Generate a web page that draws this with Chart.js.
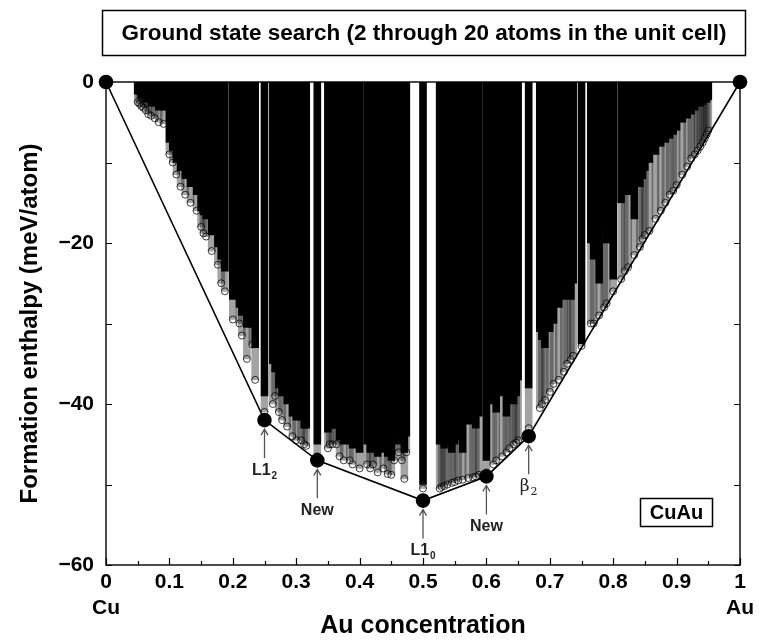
<!DOCTYPE html>
<html>
<head>
<meta charset="utf-8">
<script src="https://cdn.jsdelivr.net/npm/chart.js@4.4.1/dist/chart.umd.min.js"></script>
<style>
  html, body { margin: 0; padding: 0; background: #fff; }
  #wrap { width: 759px; height: 641px; }
</style>
</head>
<body>
<div id="wrap"><canvas id="hullChart" width="759" height="641"></canvas></div>
<script>
// Au concentrations of the enumerated cells (n/m, m <= 20)
const conc = [
  0.05, 0.0526, 0.0556, 0.0588, 0.0625, 0.0667, 0.0714, 0.0769, 0.0833, 0.0909,
  0.1, 0.1053, 0.1111, 0.1176, 0.125, 0.1333, 0.1429, 0.15, 0.1538, 0.1579,
  0.1667, 0.1765, 0.1818, 0.1875, 0.2, 0.2105, 0.2143, 0.2222, 0.2308, 0.2353,
  0.25, 0.2632, 0.2667, 0.2727, 0.2778, 0.2857, 0.2941, 0.3, 0.3077, 0.3125,
  0.3158, 0.3333, 0.35, 0.3529, 0.3571, 0.3636, 0.3684, 0.375, 0.3846, 0.3889,
  0.4, 0.4118, 0.4167, 0.4211, 0.4286, 0.4375, 0.4444, 0.45, 0.4545, 0.4615,
  0.4667, 0.4706, 0.4737, 0.5, 0.5263, 0.5294, 0.5333, 0.5385, 0.5455, 0.55,
  0.5556, 0.5625, 0.5714, 0.5789, 0.5833, 0.5882, 0.6, 0.6111, 0.6154, 0.625,
  0.6316, 0.6364, 0.6429, 0.6471, 0.65, 0.6667, 0.6842, 0.6875, 0.6923, 0.7,
  0.7059, 0.7143, 0.7222, 0.7273, 0.7333, 0.7368, 0.75, 0.7647, 0.7692, 0.7778,
  0.7857, 0.7895, 0.8, 0.8125, 0.8182, 0.8235, 0.8333, 0.8421, 0.8462, 0.85,
  0.8571, 0.8667, 0.875, 0.8824, 0.8889, 0.8947, 0.9, 0.9091, 0.9167, 0.9231,
  0.9286, 0.9333, 0.9375, 0.9412, 0.9444, 0.9474, 0.95
];

// bottom of the solid black part of each column (meV/atom)
const denseBottom = [
  -1.5, -1.5, -2, -2, -2.5, -2.5, -3, -3, -3.5, -3.5,
  -7.5, -8.5, -10, -11, -12, -13, -14, -16, -16.5, -17,
  -19, -20.5, -22, -23.5, -27, -28, -29, -30.5, -30.5, -33,
  -39, -35, -36, -38, -39, -40, -41.5, -42, -42, -43,
  -43, -45, -43.5, -43, -43, -43, -44.5, -45, -45, -45.5,
  -46, -45, -46, -45.5, -46.5, -46, -46.5, -47, -45, -44,
  -45, -46, -44, -50, -45, -44.5, -45.5, -45, -46, -45,
  -44.5, -46, -42.5, -42, -43, -41.5, -47, -40, -41, -39,
  -41.5, -38, -40, -39, -37, -38, -31, -32, -33, -31,
  -30, -28, -27, -26, -27, -25, -32.5, -20, -22, -25,
  -18, -20, -24.5, -15, -13, -14, -17, -13, -12, -11,
  -10, -9, -8, -7.5, -7, -6.5, -6, -5, -4.5, -4,
  -3.5, -3, -3, -2.8, -2.5, -2.5, -2.2
];

// lowest (sparse) structure found in each column (meV/atom)
const lowest = [
  -2.5, -2.7, -3, -3.2, -3.5, -4, -4.2, -4.5, -5, -5.2,
  -9, -10, -11.5, -13, -14, -15, -16, -18, -18.8, -19.2,
  -21, -22.7, -25, -26, -29.5, -30, -31.5, -34.4, -32.6, -37,
  -41, -40, -39, -41, -42, -42.8, -44, -44.5, -44.5, -45,
  -45.2, -46.5, -45.5, -45, -45, -45, -46.5, -47, -47, -47.5,
  -48, -47.5, -48, -47.5, -48.5, -48, -48.7, -48.8, -47, -46,
  -47, -49.3, -46, -50.5, -50.5, -50.3, -50.2, -50, -49.8, -49.7,
  -49.5, -49.4, -49.2, -49.1, -49, -48.8, -48.5, -47.5, -47, -46.5,
  -46, -45.5, -45, -44.8, -44.5, -43, -40.5, -40, -39.5, -38.5,
  -37.5, -37, -36, -35, -34.5, -34, -32.8, -30, -30, -29,
  -28, -27.5, -26, -24.5, -23.5, -23, -21.5, -20.5, -19.5, -19,
  -18.5, -17, -16, -15, -14, -13.5, -12.8, -11.5, -10.5, -9.5,
  -9, -8.5, -8, -7.5, -7, -6.5, -6
];

// ground-state line
const hullX = [0, 0.25, 0.3333, 0.5, 0.6, 0.6667, 1];
const hullY = [0, -42, -47, -52, -49, -44, 0];
const hullName = ['', 'L1', 'New', 'L1', 'New', '\u03B2', ''];
const hullSub = ['', '2', '', '0', '', '2', ''];

// axis labels
const xEndNames = ['Cu', 'Au'];
const yLabelled = [0, -20, -40, -60];
const chartTitle = 'Ground state search (2 through 20 atoms in the unit cell)';
const systemName = 'CuAu';

const FONT = '"Liberation Sans", Arial, Helvetica, sans-serif';
Chart.defaults.font.family = FONT;
Chart.defaults.color = '#000';

const decor = {
    id: 'decor',
    beforeDatasetsDraw(chart) {
        const {ctx, chartArea: a, scales: {x, y}} = chart;
        ctx.save();
        ctx.strokeStyle = '#000';
        ctx.lineWidth = 1.4;
        ctx.strokeRect(a.left, a.top, a.right - a.left, a.bottom - a.top);
        ctx.lineWidth = 1.2;
        ctx.beginPath();
        x.ticks.forEach(t => {
            const px = Math.round(x.getPixelForValue(t.value)) + 0.5;
            const len = Math.round(t.value * 20) % 2 === 0 ? 7 : 4;
            ctx.moveTo(px, a.bottom);
            ctx.lineTo(px, a.bottom - len);
        });
        y.ticks.forEach(t => {
            const py = Math.round(y.getPixelForValue(t.value)) + 0.5;
            ctx.moveTo(a.left, py);
            ctx.lineTo(a.left + 6, py);
            ctx.moveTo(a.right, py);
            ctx.lineTo(a.right - 6, py);
        });
        ctx.stroke();
        ctx.restore();
    },
    afterDraw(chart) {
        const {ctx, chartArea: a, scales: {x, y}} = chart;
        ctx.save();

        // title box
        ctx.strokeStyle = '#000';
        ctx.lineWidth = 1.5;
        ctx.strokeRect(102.5, 10.5, 643, 45);
        ctx.fillStyle = '#000';
        ctx.font = 'bold 22.5px ' + FONT;
        ctx.textAlign = 'center';
        ctx.textBaseline = 'middle';
        ctx.fillText(chartTitle, 424, 34);

        // arrows + structure names under the hull points
        hullX.forEach((hx, i) => {
            if (!hullName[i]) return;
            const px = x.getPixelForValue(hx);
            const py = y.getPixelForValue(hullY[i]);
            ctx.strokeStyle = '#555';
            ctx.lineWidth = 1.3;
            ctx.beginPath();
            ctx.moveTo(px, py + 38);
            ctx.lineTo(px, py + 9);
            ctx.moveTo(px - 3.5, py + 15);
            ctx.lineTo(px, py + 9);
            ctx.lineTo(px + 3.5, py + 15);
            ctx.stroke();

            const isGreek = hullName[i] === '\u03B2';
            const mainFont = isGreek ? '17px "DejaVu Serif", serif' : 'bold 16px ' + FONT;
            const subFont = isGreek ? '11px "DejaVu Serif", serif' : 'bold 10px ' + FONT;
            ctx.font = mainFont;
            const w1 = ctx.measureText(hullName[i]).width;
            ctx.font = subFont;
            const w2 = hullSub[i] ? ctx.measureText(hullSub[i]).width + 1 : 0;
            const left = px - (w1 + w2) / 2;
            const ly = py + 50;
            ctx.fillStyle = '#222';
            ctx.textAlign = 'left';
            ctx.textBaseline = 'middle';
            ctx.font = mainFont;
            ctx.fillText(hullName[i], left, ly);
            if (hullSub[i]) {
                ctx.font = subFont;
                ctx.fillText(hullSub[i], left + w1 + 1, ly + 6);
            }
        });

        // system name box
        ctx.strokeStyle = '#000';
        ctx.lineWidth = 1.5;
        ctx.strokeRect(640.5, 498.5, 72, 28);
        ctx.fillStyle = '#000';
        ctx.font = 'bold 20px ' + FONT;
        ctx.textAlign = 'center';
        ctx.textBaseline = 'middle';
        ctx.fillText(systemName, 676.5, 513);
        ctx.restore();
    }
};

const ctx = document.getElementById('hullChart').getContext('2d');
new Chart(ctx, {
    type: 'bar',
    data: {
        datasets: [
            {
                type: 'line',
                data: hullX.map((v, i) => ({x: v, y: hullY[i]})),
                borderColor: '#000',
                borderWidth: 1.6,
                pointRadius: 6.5,
                pointBackgroundColor: '#000',
                pointBorderColor: '#000',
                clip: false,
                order: 0
            },
            {
                type: 'line',
                data: conc.map((c, i) => ({x: c, y: lowest[i]})),
                showLine: false,
                pointRadius: 3.5,
                pointBorderWidth: 1,
                pointBorderColor: 'rgba(0,0,0,0.75)',
                pointBackgroundColor: 'rgba(255,255,255,0)',
                order: 1
            },
            {
                data: conc.map((c, i) => ({x: c, y: [lowest[i], denseBottom[i]]})),
                backgroundColor: 'rgba(0,0,0,0.36)',
                barThickness: 7,
                grouped: false,
                order: 2
            },
            {
                data: conc.map((c, i) => ({x: c, y: [denseBottom[i], 0]})),
                backgroundColor: '#000',
                barThickness: 7,
                grouped: false,
                order: 3
            }
        ]
    },
    options: {
        responsive: false,
        animation: false,
        layout: { padding: { top: 82, right: 19, bottom: 0, left: 0 } },
        plugins: {
            legend: { display: false },
            tooltip: { enabled: false }
        },
        scales: {
            x: {
                type: 'linear',
                min: 0,
                max: 1,
                offset: false,
                grid: { display: false, drawTicks: false },
                border: { display: false },
                ticks: {
                    stepSize: 0.05,
                    autoSkip: false,
                    maxRotation: 0,
                    padding: 5,
                    font: { size: 21, weight: 'bold' },
                    callback: function(value) {
                        const k = Math.round(value * 20);
                        if (k % 2 !== 0) return '';
                        if (k === 0) return ['0', xEndNames[0]];
                        if (k === 20) return ['1', xEndNames[1]];
                        return (k / 20).toFixed(1);
                    }
                },
                title: {
                    display: true,
                    text: 'Au concentration',
                    font: { size: 25, weight: 'bold' },
                    padding: { top: 0, bottom: 0 }
                },
                afterFit: function(scale) { scale.height = 76; }
            },
            y: {
                min: -60,
                max: 0,
                grid: { display: false, drawTicks: false },
                border: { display: false },
                ticks: {
                    stepSize: 10,
                    padding: 12,
                    font: { size: 21, weight: 'bold' },
                    callback: function(value) {
                        if (!yLabelled.includes(value)) return '';
                        return value === 0 ? '0' : '\u2212' + Math.abs(value);
                    }
                },
                title: {
                    display: true,
                    text: 'Formation enthalpy (meV/atom)',
                    font: { size: 24, weight: 'bold' },
                    padding: { top: 16, bottom: 0 }
                },
                afterFit: function(scale) { scale.width = 106; }
            }
        }
    },
    plugins: [decor]
});
</script>
</body>
</html>
